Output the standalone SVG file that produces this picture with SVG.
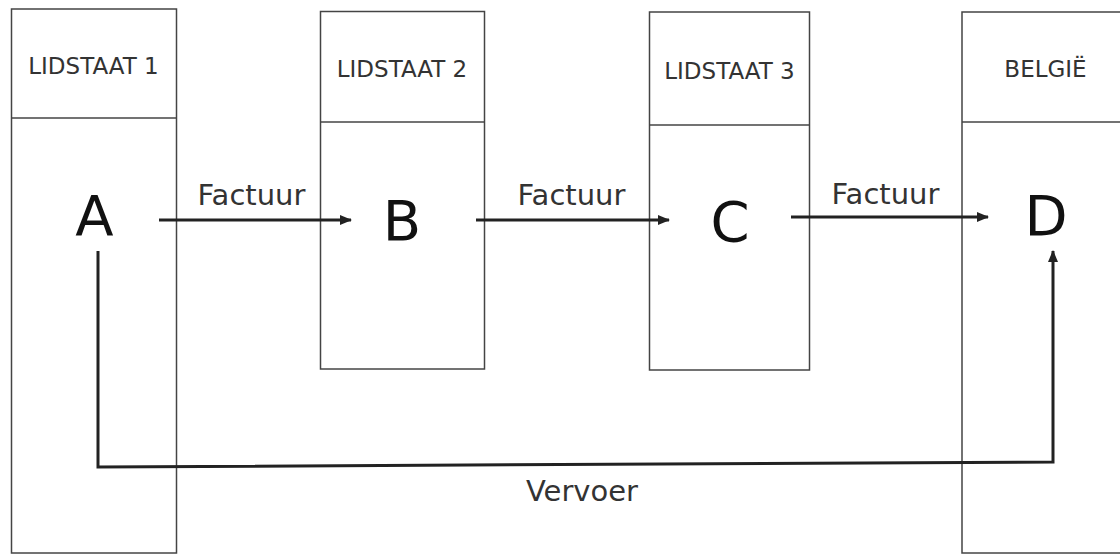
<svg xmlns="http://www.w3.org/2000/svg" width="1120" height="554" viewBox="0 0 1120 554">
  <style>
    .box { fill: none; stroke: #444; stroke-width: 1.5; }
    .hdr { font-family: "DejaVu Sans", Verdana, sans-serif; font-size: 23px; fill: #333; text-anchor: middle; }
    .big { font-family: "DejaVu Sans", Verdana, sans-serif; font-size: 56px; fill: #111; text-anchor: middle; }
    .lbl { font-family: "DejaVu Sans", Verdana, sans-serif; font-size: 29px; fill: #333; text-anchor: middle; }
    .conn { fill: none; stroke: #222; stroke-width: 3; stroke-linejoin: miter; }
  </style>
  <defs>
    <marker id="arrow" markerUnits="userSpaceOnUse" markerWidth="12" markerHeight="10" refX="11" refY="5" orient="auto">
      <path d="M0,0 L12,5 L0,10 z" fill="#222"/>
    </marker>
  </defs>
  <rect width="1120" height="554" fill="#fff"/>

  <g id="lidstaat1">
    <rect class="box" x="11.5" y="9" width="165" height="544"/>
    <line class="box" x1="11.5" y1="118" x2="176.5" y2="118"/>
    <text class="hdr" x="93.5" y="74">LIDSTAAT 1</text>
    <text class="big" x="94.5" y="235">A</text>
  </g>
  <g id="lidstaat2">
    <rect class="box" x="320.5" y="11.5" width="164" height="357.5"/>
    <line class="box" x1="320.5" y1="122" x2="484.5" y2="122"/>
    <text class="hdr" x="402" y="77">LIDSTAAT 2</text>
    <text class="big" x="402" y="240">B</text>
  </g>
  <g id="lidstaat3">
    <rect class="box" x="649.5" y="12" width="160" height="358"/>
    <line class="box" x1="649.5" y1="125" x2="809.5" y2="125"/>
    <text class="hdr" x="729.5" y="79">LIDSTAAT 3</text>
    <text class="big" x="730" y="241">C</text>
  </g>
  <g id="belgie">
    <rect class="box" x="962" y="12" width="200" height="541"/>
    <line class="box" x1="962" y1="122" x2="1120" y2="122"/>
    <text class="hdr" x="1045.5" y="77">BELGIË</text>
    <text class="big" x="1046" y="235">D</text>
  </g>

  <g id="connectors">
    <line class="conn" x1="159" y1="220" x2="351" y2="220" marker-end="url(#arrow)"/>
    <text class="lbl" x="251.5" y="205">Factuur</text>
    <line class="conn" x1="476" y1="220" x2="669" y2="220" marker-end="url(#arrow)"/>
    <text class="lbl" x="571.5" y="205">Factuur</text>
    <line class="conn" x1="791" y1="217" x2="988" y2="217" marker-end="url(#arrow)"/>
    <text class="lbl" x="885.5" y="204">Factuur</text>
    <polyline class="conn" points="98,251 98,467 1053,462 1053,251" marker-end="url(#arrow)"/>
    <text class="lbl" x="582" y="501">Vervoer</text>
  </g>
</svg>
